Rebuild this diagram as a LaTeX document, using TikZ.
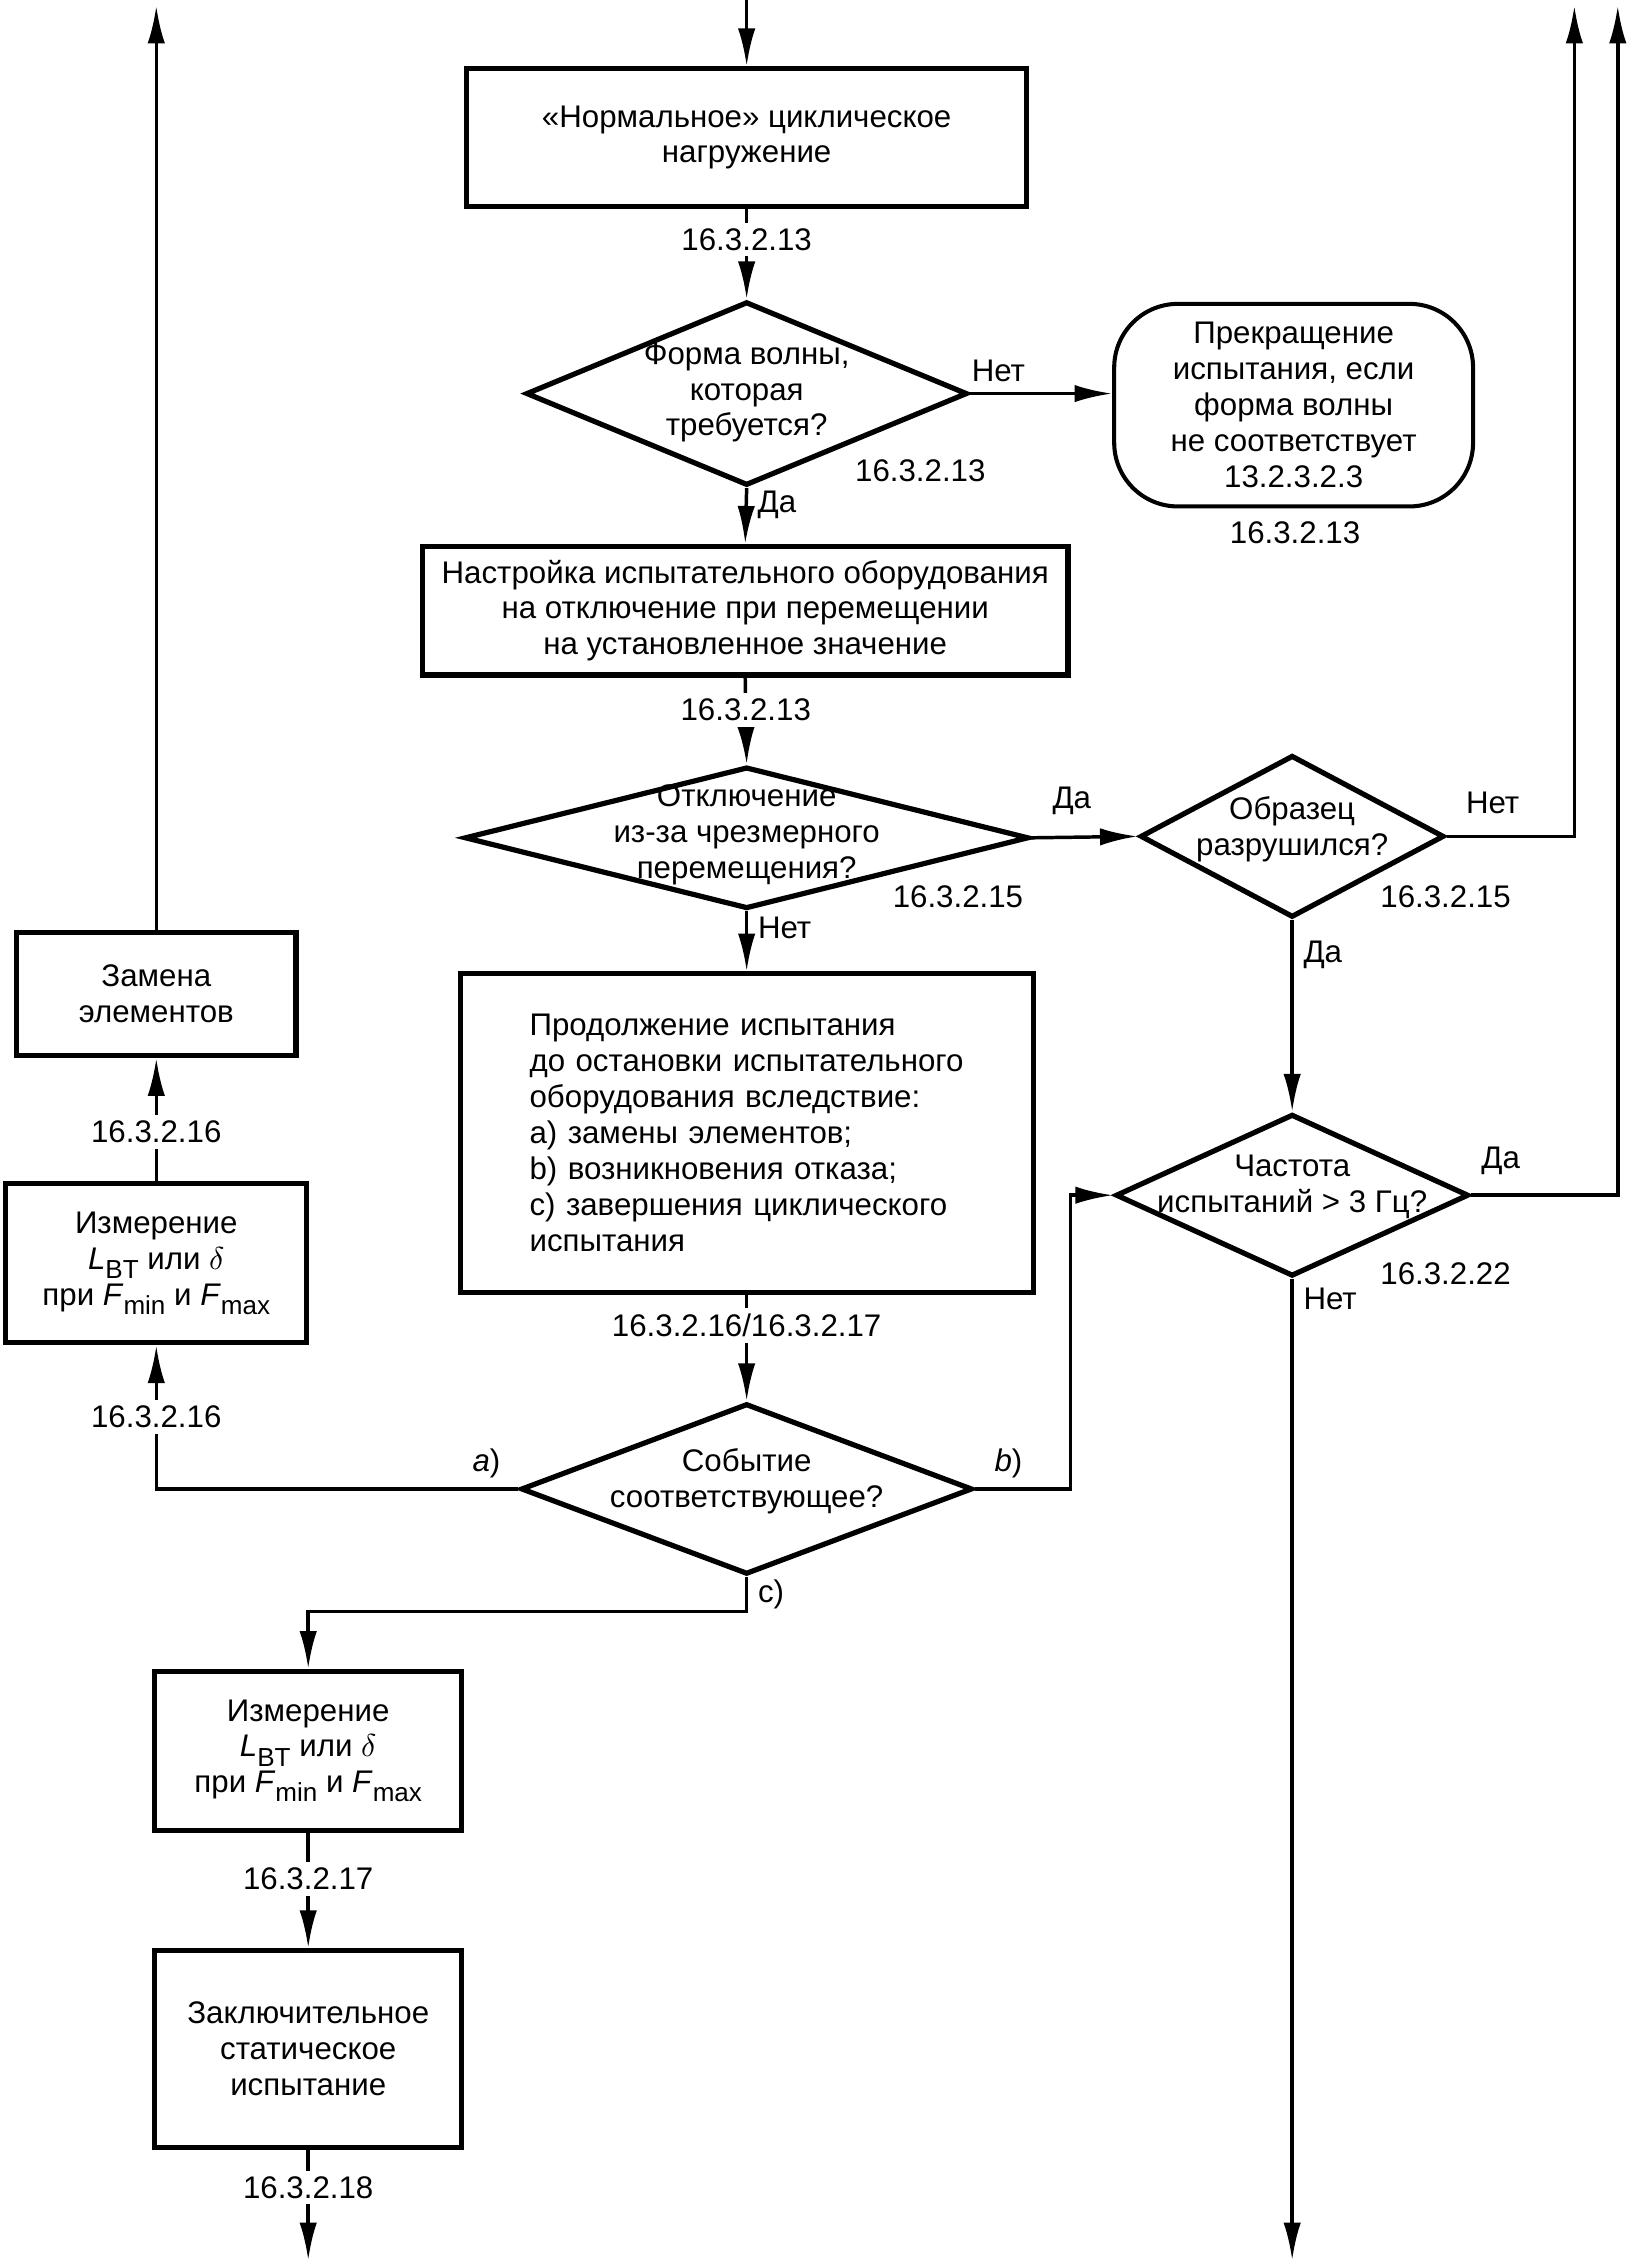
\documentclass[tikz,border=0pt]{standalone}
\usepackage{fontspec}
\setmainfont{Liberation Sans}
\usetikzlibrary{shapes.geometric,arrows.meta}

\newcommand{\lowsub}[1]{\raisebox{-.55ex}{\small #1}}
\newcommand{\dtext}[2][2pt]{\raisebox{-#1}{\smash{\makebox[0pt]{\begin{tabular}{@{}c@{}}#2\end{tabular}}}}}

\tikzset{num/.style={fill=white,inner sep=2pt}}

\begin{document}
\begin{tikzpicture}[x=.5pt,y=-.5pt,
    font=\fontsize{10.8}{12.4}\selectfont,
    >={Latex[length=13pt,width=6pt]},
    line width=1.2pt]

        \useasboundingbox (0,0) rectangle (1135,1566);

        \coordinate (in) at (516,0);
        \coordinate (t1) at (108,4);
        \coordinate (t2) at (1088,4);
        \coordinate (t3) at (1118,4);
        \coordinate (o1) at (213,1562);
        \coordinate (o2) at (893,1562);

        \begin{scope}[every node/.style={rectangle,draw,line width=1.8pt,align=center}]
          \node[minimum width=193.5pt,minimum height=47.5pt] (1) at (516,95)
            {«Нормальное» циклическое\\нагружение};
          \node[minimum width=223pt,minimum height=44.5pt] (4) at (515,422)
            {Настройка испытательного оборудования\\на отключение при перемещении\\на установленное значение};
          \node[minimum width=198pt,minimum height=110pt,text width=150pt,align=left] (8) at (516,783)
            {Продолжение испытания\\до остановки испытательного\\оборудования вследствие:\\a) замены элементов;\\b) возникновения отказа;\\c) завершения циклического\\испытания};
          \node[minimum width=96.5pt,minimum height=42.5pt] (10) at (108,687) {Замена\\элементов};
          \node[minimum width=104pt,minimum height=55pt] (11) at (108,873)
            {Измерение\\\textit{L}\lowsub{BT} или $\delta$\\при \textit{F}\lowsub{min} и \textit{F}\lowsub{max}};
          \node[minimum width=106pt,minimum height=55pt] (12) at (213,1210)
            {Измерение\\\textit{L}\lowsub{BT} или $\delta$\\при \textit{F}\lowsub{min} и \textit{F}\lowsub{max}};
          \node[minimum width=106pt,minimum height=68pt] (13) at (213,1416)
            {Заключительное\\статическое\\испытание};
          \node[rounded corners=22pt,line width=1.4pt,minimum width=124pt,minimum height=70pt] (3) at (894,280)
            {Прекращение\\испытания, если\\форма волны\\не соответствует\\13.2.3.2.3};
        \end{scope}

        \begin{scope}[every node/.style={diamond,draw,line width=1.8pt,inner sep=0pt}]
          \node[minimum width=152.5pt,minimum height=63.5pt] (2) at (516,272)
            {\dtext[5pt]{Форма волны,\\которая\\требуется?}};
          \node[minimum width=195pt,minimum height=49pt] (5) at (516,579)
            {\dtext[3.5pt]{Отключение\\из-за чрезмерного\\перемещения?}};
          \node[minimum width=105pt,minimum height=56pt] (6) at (893,578)
            {\dtext[1.5pt]{Образец\\разрушился?}};
          \node[minimum width=122pt,minimum height=56pt] (7) at (893,826)
            {\dtext[0pt]{Частота\\испытаний > 3 Гц?}};
          \node[minimum width=156pt,minimum height=59pt] (9) at (516,1029)
            {\dtext[1pt]{Событие\\соответствующее?}};
        \end{scope}

        \node (n1) at (636,325) {16.3.2.13};
        \node (n2) at (895,368) {16.3.2.13};
        \node (n3) at (662,620) {16.3.2.15};
        \node (n4) at (999,620) {16.3.2.15};
        \node (n5) at (999,880) {16.3.2.22};

        \begin{scope}[every edge/.style={draw,->}]
          \path (in) edge (1.north);
          \path (1.south) edge node[num,pos=.34] {16.3.2.13} (2.north);
          \path (2.east) edge node[pos=.2,above] {Нет} (3.west |- 2.east);
          \path (2.south) edge node[pos=.3,right] {Да} (4.north);
          \path (4.south) edge node[num,pos=.37] {16.3.2.13} (5.north);
          \path (5.east) edge node[pos=.38,above=4pt] {Да} (6.west);
          \path (5.south) edge node[pos=.27,right] {Нет} (8.north);
          \path (6.south) edge node[pos=.18,right] {Да} (7.north);
          \path (8.south) edge node[num,pos=.29] {16.3.2.16/16.3.2.17} (9.north);
          \path (11.north) edge node[num,pos=.4] {16.3.2.16} (10.south);
          \path (10.north) edge (t1);
          \path (12.south) edge node[num,pos=.4] {16.3.2.17} (13.north);
          \path (13.south) edge node[num,pos=.34] {16.3.2.18} (o1);
          \path (7.south) edge node[pos=.02,right] {Нет} (o2);
        \end{scope}

        \draw[->] (6.east) -| node[pos=.18,above=4pt] {Нет} (t2);
        \draw[->] (7.east) -| node[pos=.1,above=3pt] {Да} (t3);
        \draw[->] (9.west) -| node[pos=.044,above] {\textit{a})}
                  node[num,pos=.75] {16.3.2.16} (11.south);
        \draw[->] (9.east) -- node[pos=.35,above] {\textit{b})} ++(66,0) |- (7.west);
        \draw[->] (9.south) -- node[right] {c)} ++(0,24) -| (12.north);

      \end{tikzpicture}
\end{document}
